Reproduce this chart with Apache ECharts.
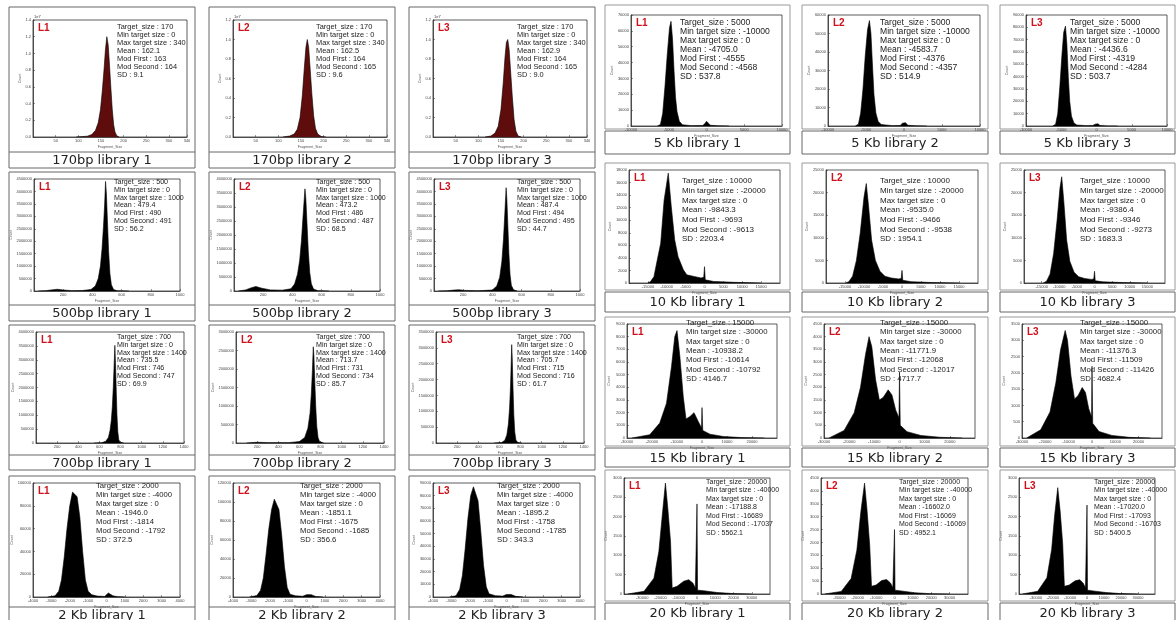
<!DOCTYPE html>
<html><head><meta charset="utf-8">
<script src="https://cdn.jsdelivr.net/npm/echarts@6/dist/echarts.min.js"></script>
<style>html,body{margin:0;padding:0;background:#fff}#c{width:1176px;height:620px}</style>
</head><body><div id="c"></div>
<script>
// ---------- captions ----------
const captionsLeft = [
  ['170bp library 1','170bp library 2','170bp library 3'],
  ['500bp library 1','500bp library 2','500bp library 3'],
  ['700bp library 1','700bp library 2','700bp library 3'],
  ['2 Kb library 1','2 Kb library 2','2 Kb library 3']
];
const captionsRight = [
  ['5 Kb library 1','5 Kb library 2','5 Kb library 3'],
  ['10 Kb library 1','10 Kb library 2','10 Kb library 3'],
  ['15 Kb library 1','15 Kb library 2','15 Kb library 3'],
  ['20 Kb library 1','20 Kb library 2','20 Kb library 3']
];
const libLabels = ['L1','L2','L3'];

// ---------- stats: target, min, max, mean, modFirst, modSecond, SD ----------
const stats170 = [['170','0','340','162.1','163','164','9.1'],['170','0','340','162.5','164','165','9.6'],['170','0','340','162.9','164','165','9.0']];
const stats500 = [['500','0','1000','479.4','490','491','56.2'],['500','0','1000','473.2','486','487','68.5'],['500','0','1000','487.4','494','495','44.7']];
const stats700 = [['700','0','1400','735.5','746','747','69.9'],['700','0','1400','713.7','731','734','85.7'],['700','0','1400','705.7','715','716','61.7']];
const stats2k  = [['2000','-4000','0','-1946.0','-1814','-1792','372.5'],['2000','-4000','0','-1851.1','-1675','-1685','356.6'],['2000','-4000','0','-1895.2','-1758','-1785','343.3']];
const stats5k  = [['5000','-10000','0','-4705.0','-4555','-4568','537.8'],['5000','-10000','0','-4583.7','-4376','-4357','514.9'],['5000','-10000','0','-4436.6','-4319','-4284','503.7']];
const stats10k = [['10000','-20000','0','-9843.3','-9693','-9613','2203.4'],['10000','-20000','0','-9535.0','-9466','-9538','1954.1'],['10000','-20000','0','-9386.4','-9346','-9273','1683.3']];
const stats15k = [['15000','-30000','0','-10938.2','-10614','-10792','4146.7'],['15000','-30000','0','-11771.9','-12068','-12017','4717.7'],['15000','-30000','0','-11376.3','-11509','-11426','4682.4']];
const stats20k = [['20000','-40000','0','-17188.8','-16689','-17037','5562.1'],['20000','-40000','0','-16602.0','-16069','-16069','4952.1'],['20000','-40000','0','-17020.0','-17093','-16703','5400.5']];

// ---------- x axis ranges [min, max, interval] ----------
const x170 = [0, 340, 50];
const x500 = [0, 1000, 200];
const x700 = [0, 1400, 200];
const x2k  = [-4000, 4000, 1000];
const x5k  = [-10000, 10000, 5000];
const x10k = [-20000, 20000, 5000];
const x15k = [-30000, 30000, 10000];
const x20k = [-40000, 40000, 10000];

// ---------- y axis ranges [max, interval] per library ----------
const y170 = [[1.4,0.2],[1.2,0.2],[1.2,0.2]];
const y500 = [[4500000,500000],[4000000,500000],[4500000,500000]];
const y700 = [[4000000,500000],[3000000,500000],[3500000,500000]];
const y2k  = [[100000,20000],[120000,20000],[90000,10000]];
const y5k  = [[70000,10000],[60000,10000],[90000,10000]];
const y10k = [[18000,2000],[25000,5000],[25000,5000]];
const y15k = [[9000,1000],[4500,500],[3500,500]];
const y20k = [[3000,500],[4500,500],[3000,500]];

// ---------- histogram outlines [fragment size, count] ----------
const h170_1 = [[95,0],[110,0.005],[120,0.01],[130,0.03],[138,0.08],[144,0.17],[149,0.33],[153,0.55],[157,0.82],[160,1.05],[163,1.2],[166,1.1],[169,0.85],[172,0.58],[175,0.33],[178,0.15],[181,0.06],[185,0.015],[190,0]];
const h170_2 = [[110,0],[125,0.01],[135,0.03],[142,0.08],[148,0.2],[153,0.42],[157,0.68],[161,0.92],[164,1.0],[167,0.92],[170,0.72],[174,0.45],[178,0.22],[182,0.09],[187,0.03],[195,0.005],[205,0]];
const h170_3 = [[115,0],[128,0.01],[137,0.04],[144,0.11],[150,0.28],[155,0.55],[159,0.82],[162,0.97],[165,1.0],[168,0.9],[171,0.7],[175,0.42],[179,0.18],[183,0.06],[188,0.01],[195,0]];

const h500_1 = [[30,0],[80,15000],[130,50000],[160,70000],[200,40000],[260,15000],[330,20000],[390,60000],[420,200000],[440,500000],[455,1000000],[466,1700000],[476,2600000],[484,3500000],[490,4400000],[496,3900000],[503,2800000],[511,1600000],[520,700000],[530,250000],[545,60000],[570,10000],[650,0]];
const h500_2 = [[30,0],[80,40000],[120,120000],[150,160000],[190,100000],[250,40000],[330,30000],[390,80000],[415,250000],[435,600000],[450,1100000],[462,1800000],[472,2600000],[480,3200000],[486,3650000],[492,3300000],[500,2400000],[509,1400000],[519,650000],[530,250000],[545,70000],[575,10000],[650,0]];
const h500_3 = [[30,0],[90,10000],[140,40000],[170,50000],[210,25000],[300,10000],[400,40000],[430,200000],[450,550000],[465,1200000],[476,2100000],[485,3100000],[491,3800000],[494,4150000],[499,3700000],[506,2600000],[513,1500000],[521,650000],[530,220000],[545,50000],[570,0]];

const h700_1 = [[550,0],[620,10000],[660,60000],[685,200000],[700,450000],[712,800000],[722,1300000],[731,2000000],[739,2800000],[746,3520000],[752,2900000],[759,1900000],[766,1000000],[774,400000],[783,120000],[795,30000],[830,0]];
const h700_2 = [[100,0],[200,20000],[300,10000],[500,10000],[600,40000],[650,150000],[680,400000],[700,800000],[712,1300000],[722,1900000],[731,2600000],[737,2350000],[745,1700000],[754,1000000],[764,450000],[776,150000],[790,40000],[830,0]];
const h700_3 = [[550,0],[620,15000],[650,80000],[670,250000],[685,600000],[696,1100000],[705,1800000],[712,2600000],[716,3100000],[721,2700000],[728,1800000],[736,900000],[745,350000],[756,90000],[775,15000],[810,0]];

const h2k_1 = [[-3200,0],[-2800,1000],[-2600,5000],[-2450,15000],[-2300,35000],[-2150,60000],[-2000,80000],[-1850,92000],[-1750,93000],[-1600,88000],[-1450,70000],[-1300,40000],[-1150,15000],[-1000,5000],[-800,2000],[-500,800],[-100,500],[0,2000],[100,3500],[200,3000],[350,1000],[600,300],[1000,0]];
const h2k_2 = [[-3100,0],[-2700,1500],[-2500,7000],[-2350,20000],[-2200,45000],[-2050,72000],[-1900,92000],[-1750,103000],[-1650,104000],[-1500,92000],[-1350,65000],[-1200,32000],[-1050,10000],[-900,3000],[-600,1200],[-200,800],[0,2500],[100,4000],[250,2500],[500,600],[900,0]];
const h2k_3 = [[-3100,0],[-2750,1000],[-2550,6000],[-2400,17000],[-2250,38000],[-2100,62000],[-1950,80000],[-1800,87000],[-1700,86000],[-1550,76000],[-1400,52000],[-1250,25000],[-1100,8000],[-950,2500],[-600,1000],[-200,700],[0,2000],[100,3000],[250,2000],[500,500],[900,0]];

const h5k_1 = [[-6500,0],[-6100,1000],[-5800,8000],[-5500,25000],[-5200,45000],[-4900,62000],[-4700,66000],[-4500,55000],[-4300,35000],[-4100,18000],[-3900,9000],[-3600,3000],[-3200,800],[-2000,200],[-500,300],[-200,1500],[0,3000],[200,2000],[500,500],[1500,100],[3000,0]];
const h5k_2 = [[-6400,0],[-6000,1000],[-5700,7000],[-5400,20000],[-5100,38000],[-4800,52000],[-4550,57000],[-4350,50000],[-4150,33000],[-3950,17000],[-3700,7000],[-3400,2500],[-3000,800],[-1500,200],[-500,300],[-200,1500],[0,2500],[200,1800],[500,400],[1500,100],[3000,0]];
const h5k_3 = [[-6200,0],[-5800,1500],[-5500,10000],[-5200,32000],[-4900,58000],[-4650,76000],[-4400,81000],[-4200,66000],[-4000,40000],[-3800,20000],[-3550,8000],[-3200,2500],[-2800,800],[-1500,300],[-500,400],[-200,1500],[0,2500],[200,1800],[500,400],[1500,100],[3000,0]];

const h10k_1 = [[-15000,0],[-14350,200],[-13400,1000],[-12500,3700],[-11600,6350],[-10700,13200],[-9600,17500],[-8800,12200],[-7900,6900],[-7000,4200],[-5600,2100],[-4700,1300],[-2800,1050],[-900,800],[-200,900],[0,2600],[200,500],[2400,250],[8000,100],[15000,0]];
const h10k_2 = [[-14800,0],[-14000,300],[-13000,1500],[-12000,5000],[-11000,11000],[-10000,19000],[-9400,22000],[-8800,17000],[-8000,9500],[-7000,5000],[-5800,2600],[-4500,1500],[-2800,1100],[-900,900],[-200,1000],[0,2800],[200,600],[2400,300],[8000,100],[15000,0]];
const h10k_3 = [[-14500,0],[-13600,400],[-12600,2000],[-11600,6500],[-10600,14000],[-9800,21000],[-9300,23500],[-8700,18000],[-7900,9500],[-7000,4800],[-5800,2400],[-4500,1400],[-2800,1000],[-900,800],[-200,900],[0,2600],[200,500],[2400,250],[8000,100],[15000,0]];

const h15k_1 = [[-28000,0],[-20900,260],[-16900,1180],[-14200,2750],[-12200,5640],[-10900,8000],[-10000,8480],[-8850,6430],[-7500,3280],[-6400,1500],[-4800,1700],[-3200,2000],[-1500,1300],[-200,800],[0,2400],[300,600],[3200,300],[8500,120],[16000,30],[25000,0]];
const h15k_2 = [[-28000,0],[-22000,300],[-18000,1000],[-15500,2000],[-13500,3300],[-12100,4000],[-11000,3600],[-9500,2300],[-8000,1500],[-6500,1600],[-4500,1900],[-3000,1700],[-1500,1100],[-200,800],[0,2600],[300,500],[3000,250],[8500,100],[16000,30],[25000,0]];
const h15k_3 = [[-28000,0],[-22000,250],[-18000,800],[-15500,1700],[-13500,2700],[-11500,3300],[-10500,3000],[-9000,1900],[-7500,1200],[-6000,1300],[-4200,1550],[-2800,1400],[-1400,900],[-200,650],[0,2200],[300,450],[3000,200],[8500,80],[16000,20],[25000,0]];

const h20k_1 = [[-38000,0],[-29000,70],[-23600,410],[-20900,1100],[-19000,2050],[-17300,2870],[-16000,2220],[-14500,1360],[-13600,155],[-10900,200],[-7300,330],[-4500,370],[-2200,280],[-900,155],[0,2330],[300,100],[3600,85],[10900,40],[20000,10],[30000,0]];
const h20k_2 = [[-38000,0],[-29000,100],[-23600,600],[-20500,1700],[-18300,3200],[-16300,4300],[-15000,3300],[-13500,1900],[-12500,300],[-10000,350],[-7000,520],[-4300,560],[-2200,430],[-900,250],[0,2500],[300,150],[3600,120],[10900,50],[20000,10],[30000,0]];
const h20k_3 = [[-38000,0],[-29000,70],[-23600,420],[-20800,1150],[-19000,2050],[-17200,2750],[-15800,2150],[-14300,1300],[-13300,200],[-10500,230],[-7000,340],[-4300,370],[-2200,280],[-900,160],[0,2300],[300,100],[3600,80],[10900,40],[20000,10],[30000,0]];

// ---------- assemble panel table ----------
const rowsLeft = [
  {st:stats170, xr:x170, yr:y170, h:[h170_1,h170_2,h170_3], fill:'#5e0c0c', sci:true, hideMinX:true},
  {st:stats500, xr:x500, yr:y500, h:[h500_1,h500_2,h500_3], fill:'#000', hideMinX:true},
  {st:stats700, xr:x700, yr:y700, h:[h700_1,h700_2,h700_3], fill:'#000', hideMinX:true},
  {st:stats2k,  xr:x2k,  yr:y2k,  h:[h2k_1,h2k_2,h2k_3], fill:'#000'}
];
const rowsRight = [
  {st:stats5k,  xr:x5k,  yr:y5k,  h:[h5k_1,h5k_2,h5k_3], fill:'#000'},
  {st:stats10k, xr:x10k, yr:y10k, h:[h10k_1,h10k_2,h10k_3], fill:'#000', hideMinX:true, hideMaxX:true},
  {st:stats15k, xr:x15k, yr:y15k, h:[h15k_1,h15k_2,h15k_3], fill:'#000', hideMaxX:true},
  {st:stats20k, xr:x20k, yr:y20k, h:[h20k_1,h20k_2,h20k_3], fill:'#000', hideMinX:true, hideMaxX:true}
];

// layout
const boxColsL = [[9,195],[209,395],[409,595]];
const boxColsR = [[605,790],[802,988],[1000,1175]];
// [boxTop, captionTop, captionBottom, plotTop, plotBottom, leftInset, rightInset, textY, lineH, fontSize, separateCaption]
const geomL = [
  [7,152,168,20,137,24,8, 27,8,7.4,false],
  [172,305,321,179,291,25,15, 182,7.8,7.1,false],
  [325,455,470,332,443,27,11, 337,7.8,7.1,false],
  [476,607,623,483,597,24,15, 486,9,7.7,false]
];
const geomR = [
  [5,131,154,15,126,26,8, 23,9,8.6,true],
  [163,292,312,170,283,24,10, 181,9.7,8.0,true],
  [317,448,467,324,438,22,13, 323,9.3,7.8,true],
  [470,603,622,478,594,19,20, 482,8.5,7.0,true]
];
const textOffL = [[108,107,108],[105,107,108],[108,107,108],[87,91,88]];
const textOffR = [[75,78,70],[77,78,80],[81,78,80],[101,97,94]];

const grids=[], xAxes=[], yAxes=[], series=[], graphics=[];
const axisFont = 'Liberation Sans';
function addPanel(row, geom, box, textOff, caption, lib, k){
  const [bt, ct, cb, pt, pb, li, ri, ty, lh, fs, sep] = geom;
  const [bl, br] = box;
  const idx = grids.length;
  const left = bl+li, right = br-ri;
  grids.push({left:left, top:pt, width:right-left, height:pb-pt, show:true, borderColor:'#333', borderWidth:0.8, backgroundColor:'#fff'});
  const xr = row.xr;
  xAxes.push({type:'value', gridIndex:idx, min:xr[0], max:xr[1], interval:xr[2],
    axisLine:{show:true, onZero:false, lineStyle:{color:'#333', width:0.8}}, axisTick:{show:true, inside:true, length:2, lineStyle:{color:'#333', width:0.5}},
    axisLabel:{fontSize:4, color:'#444', margin:2, fontFamily:axisFont, showMinLabel:!row.hideMinX, showMaxLabel:!row.hideMaxX, formatter:v=>String(v)},
    splitLine:{show:false}, name:'Fragment_Size', nameLocation:'middle', nameGap:8, nameTextStyle:{fontSize:3.6, color:'#555', fontFamily:axisFont}});
  const yr = row.yr[k];
  yAxes.push({type:'value', gridIndex:idx, min:0, max:yr[0], interval:yr[1],
    axisLine:{show:true, onZero:false, lineStyle:{color:'#333', width:0.8}}, axisTick:{show:true, inside:true, length:2, lineStyle:{color:'#333', width:0.5}},
    axisLabel:{fontSize:4, color:'#444', margin:2, fontFamily:axisFont, formatter: row.sci ? (v=>v.toFixed(1)) : (v=>String(v))},
    splitLine:{show:false}, name:'Count', nameLocation:'middle', nameRotate:90, nameGap: row.sci?10:16, nameTextStyle:{fontSize:3.6, color:'#555', fontFamily:axisFont}});
  series.push({type:'line', xAxisIndex:idx, yAxisIndex:idx, data:row.h[k], showSymbol:false, symbol:'none', silent:true,
    lineStyle:{color:'#000', width:0.6}, areaStyle:{color:row.fill, opacity:1}, z:3});
  // boxes
  if(sep){
    graphics.push({type:'rect', shape:{x:bl, y:bt, width:br-bl, height:ct-bt-2}, style:{fill:'none', stroke:'#999', lineWidth:1}, silent:true});
    graphics.push({type:'rect', shape:{x:bl, y:ct, width:br-bl, height:cb-ct}, style:{fill:'none', stroke:'#666', lineWidth:1}, silent:true});
  } else {
    graphics.push({type:'rect', shape:{x:bl, y:bt, width:br-bl, height:cb-bt}, style:{fill:'none', stroke:'#666', lineWidth:1}, silent:true});
    graphics.push({type:'line', shape:{x1:bl, y1:ct, x2:br, y2:ct}, style:{stroke:'#666', lineWidth:1}, silent:true});
  }
  graphics.push({type:'text', x:(bl+br)/2, y:(ct+cb)/2+1, style:{text:caption, fill:'#222', font:'13px "DejaVu Sans"', align:'center', verticalAlign:'middle'}, silent:true});
  graphics.push({type:'text', x:left+5, y:pt+8, style:{text:lib, fill:'#d0101a', font:'bold 10px "Liberation Sans"', align:'left', verticalAlign:'middle'}, silent:true});
  const s = row.st[k];
  const txt = ['Target_size : '+s[0], 'Min target size : '+s[1], 'Max target size : '+s[2], 'Mean : '+s[3], 'Mod First : '+s[4], 'Mod Second : '+s[5], 'SD : '+s[6]].join('\n');
  graphics.push({type:'text', x:bl+textOff, y:ty - lh/2, z:10, style:{text:txt, fill:'#222', font:fs+'px "Liberation Sans"', lineHeight:lh, align:'left', verticalAlign:'top'}, silent:true});
  if(row.sci){
    graphics.push({type:'text', x:left+1, y:pt-1, style:{text:'1e7', fill:'#444', font:'4px "Liberation Sans"', align:'left', verticalAlign:'bottom'}, silent:true});
  }
}
for(let r=0;r<4;r++){
  for(let k=0;k<3;k++){
    addPanel(rowsLeft[r], geomL[r], boxColsL[k], textOffL[r][k], captionsLeft[r][k], libLabels[k], k);
    addPanel(rowsRight[r], geomR[r], boxColsR[k], textOffR[r][k], captionsRight[r][k], libLabels[k], k);
  }
}
const chart = echarts.init(document.getElementById('c'));
chart.setOption({animation:false, backgroundColor:'#fff', grid:grids, xAxis:xAxes, yAxis:yAxes, series:series, graphic:{elements:graphics}});
</script></body></html>
